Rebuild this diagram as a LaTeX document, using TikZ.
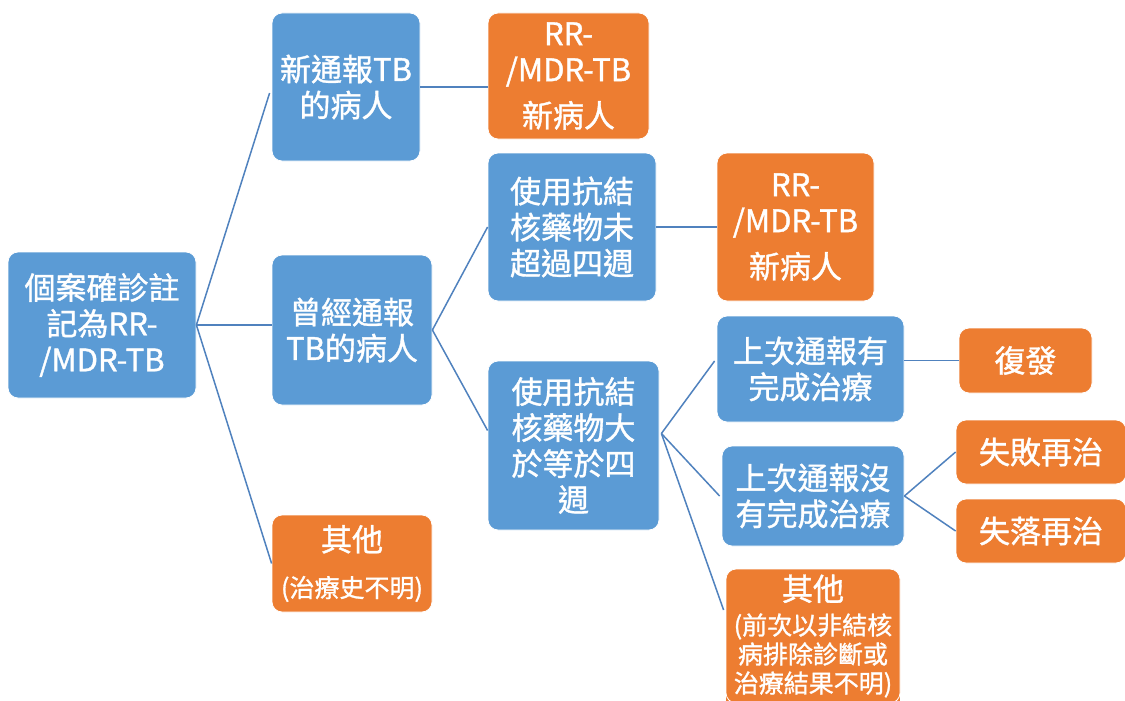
\documentclass[tikz,border=0pt]{standalone}
\usepackage{fontspec}
\setmainfont{Noto Sans CJK TC}[FakeBold=1.2,AutoFakeBold=1.2]
\definecolor{bblue}{HTML}{5B9BD5}
\definecolor{borange}{HTML}{ED7D31}
\definecolor{lineblue}{RGB}{80,130,190}
\tikzset{
  box/.style={rounded corners=10pt, draw=white, line width=0.8pt, text=white, align=center, inner sep=0pt,
    font=\fontsize{31pt}{36pt}\selectfont\bfseries},
  bluebox/.style={box, fill=bblue},
  orangebox/.style={box, fill=borange},
  conn/.style={draw=lineblue, line width=1.5pt},
}
\begin{document}
\begin{tikzpicture}[x=1pt,y=-1pt]
\clip (0,0) rectangle (1125,701);
\fill[white] (0,0) rectangle (1125,701);
\node[bluebox, minimum width=188pt, minimum height=146pt] (root) at (102,325) {個案確診註\\記為RR-\\/MDR-TB};
\node[bluebox, minimum width=148pt, minimum height=148pt] (b2) at (346,87) {新通報TB\\的病人};
\node[orangebox, minimum width=161pt, minimum height=126pt] (b3) at (568.5,76) {RR-\\/MDR-TB\\[10pt]新病人};
\node[bluebox, minimum width=168pt, minimum height=148pt] (b4) at (572,227) {使用抗結\\核藥物未\\超過四週};
\node[orangebox, minimum width=157pt, minimum height=148pt] (b5) at (795.5,227) {RR-\\/MDR-TB\\[10pt]新病人};
\node[bluebox, minimum width=160pt, minimum height=150pt] (b6) at (352,330) {曾經通報\\TB的病人};
\node[bluebox, minimum width=171pt, minimum height=169pt] (b7) at (573.5,445.5) {使用抗結\\核藥物大\\於等於四\\週};
\node[bluebox, minimum width=187pt, minimum height=106pt] (b8) at (810.5,369) {上次通報有\\完成治療};
\node[orangebox, minimum width=133pt, minimum height=65pt] (b9) at (1025.5,360.5) {復發};
\node[bluebox, minimum width=182pt, minimum height=100pt] (b10) at (813,496) {上次通報沒\\有完成治療};
\node[orangebox, minimum width=170pt, minimum height=64pt] (b11) at (1041,452) {失敗再治};
\node[orangebox, minimum width=170pt, minimum height=64pt] (b12) at (1041,531) {失落再治};
\node[orangebox, minimum width=160pt, minimum height=97pt] (b13) at (352,563.5) {其他\\[10pt]{\fontsize{25pt}{30pt}\selectfont (治療史不明)}};
% lower part of the last box runs past the picture's bottom edge
\fill[borange] (726.4,685) rectangle (899.6,720);
\node[orangebox, minimum width=174pt, minimum height=134pt] (b14) at (813,636) {其他\\[-2pt]{\fontsize{25pt}{31pt}\selectfont (前次以非結核}\\[-7pt]{\fontsize{25pt}{31pt}\selectfont 病排除診斷或}\\[-7pt]{\fontsize{25pt}{31pt}\selectfont 治療結果不明)}};
% connectors
\draw[conn] (root.east) -- ([xshift=-2pt,yshift=-6pt]b2.west);
\draw[conn] (root.east) -- (root.east -| b6.west);
\draw[conn] (root.east) -- (b13.west);
\draw[conn] (b2.east) -- (b2.east -| b3.west);
\draw[conn] (b6.east) -- (b4.west);
\draw[conn] (b6.east) -- ([yshift=15pt]b7.west);
\draw[conn] (b4.east) -- (b5.west);
\coordinate (v7) at ([xshift=2pt,yshift=12pt]b7.east);
\draw[conn] (v7) -- ([xshift=-2pt,yshift=8pt]b8.west);
\draw[conn] (v7) -- ([xshift=-2pt]b10.west);
\draw[conn] (v7) -- ([xshift=-2pt,yshift=26pt]b14.west);
\draw[conn] (b9.west -| b8.east) -- (b9.west);
\draw[conn] (b10.east) -- (b11.west);
\draw[conn] (b10.east) -- (b12.west);
\end{tikzpicture}
\end{document}
